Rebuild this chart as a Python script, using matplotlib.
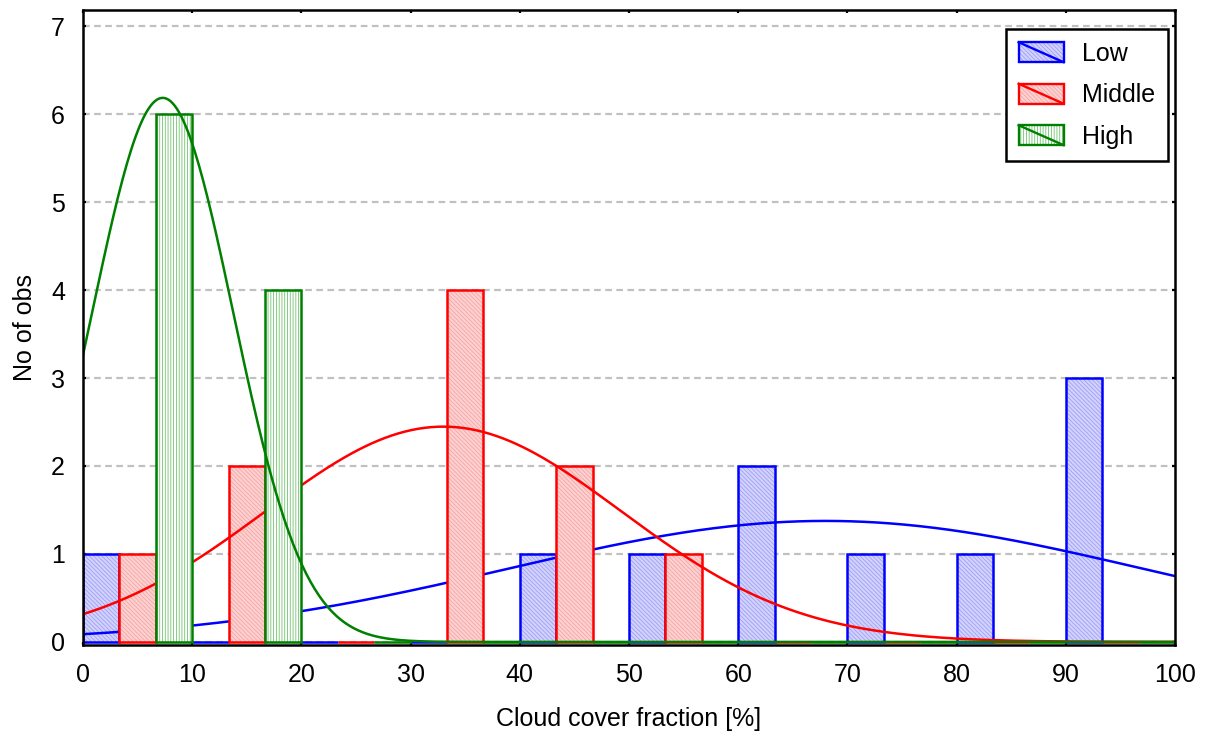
import numpy as np
import matplotlib
matplotlib.use("Agg")
import matplotlib.pyplot as plt
from matplotlib.patches import Rectangle
from matplotlib.lines import Line2D
from matplotlib.legend_handler import HandlerPatch

plt.rcParams['font.family'] = ['Liberation Sans', 'DejaVu Sans']
plt.rcParams['hatch.linewidth'] = 0.6

# histogram counts, bins of 10 %
bin_starts = [0, 10, 20, 30, 40, 50, 60, 70, 80, 90]
low_counts = [1, 0, 0, 0, 1, 1, 2, 1, 1, 3]
middle_counts = [1, 2, 0, 4, 2, 1, 0, 0, 0, 0]
high_counts = [6, 4, 0, 0, 0, 0, 0, 0, 0, 0]

# fitted normal curves (mean, sd, n)
low_fit = (68.0, 29.0, 10)
middle_fit = (33.0, 16.3, 10)
high_fit = (7.3, 6.45, 10)

series_names = ["Low", "Middle", "High"]
edge_colors = ["#0000ff", "#ff0000", "#008000"]
fill_colors = ["#d2d2ff", "#ffd0d0", "#ffffff"]
hatch_colors = ["#a0a0f0", "#f0a8a8", "#70c070"]
hatches = ["\\\\\\\\\\\\\\\\", "\\\\\\\\\\\\\\\\", "||||||"]

bin_w = 10
bar_w = bin_w / 3
FS = 18


class HandlerDiag(HandlerPatch):
    # box with a diagonal line through it, like the original legend
    def create_artists(self, legend, orig_handle, xdescent, ydescent,
                       width, height, fontsize, trans):
        x0, y0 = -xdescent, -ydescent
        fill = Rectangle((x0, y0), width, height, facecolor=orig_handle.get_facecolor(),
                         edgecolor=orig_handle._hatch_color, hatch=orig_handle.get_hatch(),
                         lw=0, transform=trans)
        box = Rectangle((x0, y0), width, height, fill=False,
                        edgecolor=orig_handle.get_edgecolor(), lw=1.7, transform=trans)
        diag = Line2D([x0, x0 + width], [y0 + height, y0],
                      color=orig_handle.get_edgecolor(), lw=1.7, transform=trans)
        return [fill, box, diag]


fig = plt.figure(figsize=(12.06, 7.38), dpi=100)
ax = fig.add_axes([0.0688, 0.126, 0.9055, 0.86])

xs = np.linspace(0, 100, 500)
counts_all = [low_counts, middle_counts, high_counts]
fits = [low_fit, middle_fit, high_fit]
handles = []
for i, (counts, fit) in enumerate(zip(counts_all, fits)):
    left = np.array(bin_starts) + i * bar_w
    z = 2 + i * 3
    ax.bar(left, counts, width=bar_w, align='edge', color=fill_colors[i],
           edgecolor=hatch_colors[i], hatch=hatches[i], lw=0, zorder=z)
    ax.bar(left, counts, width=bar_w, align='edge', fill=False,
           edgecolor=edge_colors[i], lw=1.8, zorder=z + 1)
    mu, sd, n = fit
    ys = n * bin_w * np.exp(-0.5 * ((xs - mu) / sd) ** 2) / (sd * np.sqrt(2 * np.pi))
    ax.plot(xs, ys, color=edge_colors[i], lw=1.8, zorder=z + 2)

    h = Rectangle((0, 0), 1, 1, facecolor=fill_colors[i], edgecolor=edge_colors[i],
                  hatch=hatches[i])
    h._hatch_color = matplotlib.colors.to_rgba(hatch_colors[i])
    handles.append(h)

ax.set_xlim(0, 100)
ax.set_ylim(-0.035, 7.18)
ax.set_xticks(range(0, 101, 10))
ax.set_yticks(range(0, 8))
ax.yaxis.grid(True, color='#c0c0c0', linestyle=(0, (3, 2)), lw=1.6)
ax.set_axisbelow(True)

for s in ax.spines.values():
    s.set_linewidth(1.8)
    s.set_zorder(20)
ax.tick_params(direction='in', length=2.5, width=1.6, top=True, right=True,
               labelsize=FS, pad=13)

ax.set_xlabel("Cloud cover fraction [%]", fontsize=FS, labelpad=14)
ax.set_ylabel("No of obs", fontsize=FS, labelpad=10)

leg = ax.legend(handles, series_names, handler_map={Rectangle: HandlerDiag()},
                loc='upper right', bbox_to_anchor=(0.9936, 0.97), borderaxespad=0,
                fontsize=FS, fancybox=False, framealpha=1, edgecolor='black',
                handlelength=1.8, handleheight=0.85, handletextpad=0.75,
                labelspacing=0.7, borderpad=0.5)
leg.get_frame().set_linewidth(1.8)
leg.set_zorder(30)

fig.savefig("out.png", dpi=100)
